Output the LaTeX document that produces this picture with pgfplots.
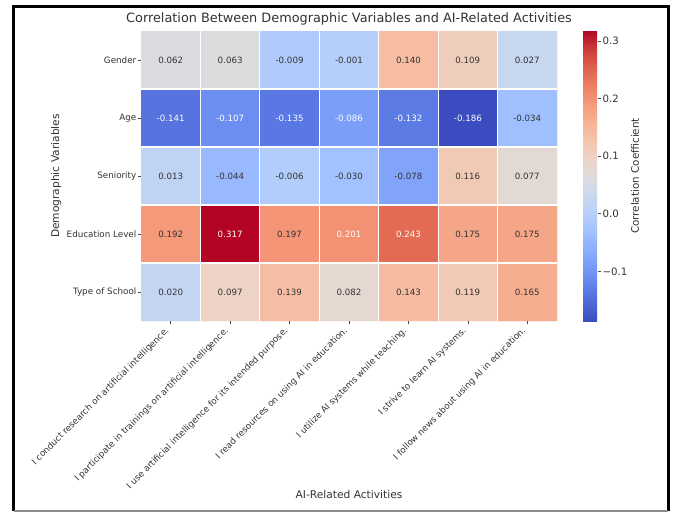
\documentclass[border=0pt]{standalone}
\usepackage{fontspec}
\setmainfont{DejaVu Sans}
\usepackage{pgfplots}
\pgfplotsset{compat=1.18}
\usepackage{pgfplotstable}

\pgfplotstableread{
x y v
0 0 0.020
1 0 0.097
2 0 0.139
3 0 0.082
4 0 0.143
5 0 0.119
6 0 0.165
0 1 0.192
1 1 0.317
2 1 0.197
3 1 0.201
4 1 0.243
5 1 0.175
6 1 0.175
0 2 0.013
1 2 -0.044
2 2 -0.006
3 2 -0.030
4 2 -0.078
5 2 0.116
6 2 0.077
0 3 -0.141
1 3 -0.107
2 3 -0.135
3 3 -0.086
4 3 -0.132
5 3 -0.186
6 3 -0.034
0 4 0.062
1 4 0.063
2 4 -0.009
3 4 -0.001
4 4 0.140
5 4 0.109
6 4 0.027
}\heat

\pgfplotstableread{
x y t
0 0 0.020
1 0 0.097
2 0 0.139
3 0 0.082
4 0 0.143
5 0 0.119
6 0 0.165
0 1 0.192
2 1 0.197
5 1 0.175
6 1 0.175
0 2 0.013
1 2 -0.044
2 2 -0.006
3 2 -0.030
4 2 -0.078
5 2 0.116
6 2 0.077
6 3 -0.034
0 4 0.062
1 4 0.063
2 4 -0.009
3 4 -0.001
4 4 0.140
5 4 0.109
6 4 0.027
}\darklabels

\pgfplotstableread{
x y t
1 1 0.317
3 1 0.201
4 1 0.243
0 3 -0.141
1 3 -0.107
2 3 -0.135
3 3 -0.086
4 3 -0.132
5 3 -0.186
}\whitelabels

\definecolor{txt}{gray}{0.2}

\begin{document}
\begin{tikzpicture}
\useasboundingbox (0,0) rectangle (673bp,-513bp);
\fill[white] (0,0) rectangle (673bp,-513bp);
\draw[black, line width=3bp] (13.5bp,-511bp) -- (13.5bp,-6.5bp) -- (668.3bp,-6.5bp) -- (668.3bp,-511bp);
\draw[black!45, line width=2bp] (13.5bp,-510.8bp) -- (668.3bp,-510.8bp);
\begin{axis}[
  at={(141bp,-321bp)}, anchor=south west,
  scale only axis, width=416bp, height=290bp,
  xmin=-0.5, xmax=6.5, ymin=-0.5, ymax=4.5,
  enlargelimits=false,
  colormap={coolwarm}{
    rgb=(0.2298,0.2987,0.7537)
    rgb=(0.3039,0.4065,0.8450)
    rgb=(0.3830,0.5094,0.9174)
    rgb=(0.4667,0.6046,0.9682)
    rgb=(0.5530,0.6889,0.9954)
    rgb=(0.6392,0.7596,0.9982)
    rgb=(0.7222,0.8140,0.9766)
    rgb=(0.7987,0.8498,0.9317)
    rgb=(0.8654,0.8654,0.8654)
    rgb=(0.9241,0.8274,0.7745)
    rgb=(0.9589,0.7698,0.6780)
    rgb=(0.9700,0.6943,0.5794)
    rgb=(0.9580,0.6028,0.4818)
    rgb=(0.9239,0.4973,0.3880)
    rgb=(0.8692,0.3783,0.3003)
    rgb=(0.7956,0.2413,0.2205)
    rgb=(0.7057,0.0156,0.1502)
  },
  point meta min=-0.186, point meta max=0.317,
  xtick={0,...,6}, ytick={0,...,4},
  xticklabels={
    I conduct research on artificial intelligence.,
    I participate in trainings on artificial intelligence.,
    I use artificial intelligence for its intended purpose.,
    I read resources on using AI in education.,
    I utilize AI systems while teaching.,
    I strive to learn AI systems.,
    I follow news about using AI in education.},
  yticklabels={Type of School, Education Level, Seniority, Age, Gender},
  x tick label style={xshift=-6bp, rotate=45, anchor=north east, font=\fontsize{8.8}{10}\selectfont, inner sep=1.5bp, text=txt},
  y tick label style={font=\fontsize{8.8}{10}\selectfont, inner sep=1.5bp, text=txt},
  tick align=outside, major tick length=3bp, xtick pos=bottom, ytick pos=left,
  tick style={black!70, line width=0.6bp},
  axis line style={draw=none},
  minor xtick={0.5,1.5,2.5,3.5,4.5,5.5}, minor ytick={0.5,1.5,2.5,3.5},
  xminorgrids, yminorgrids, minor grid style={white, line width=1.2bp},
  minor tick length=0pt,
  axis on top,
  title={Correlation Between Demographic Variables and AI-Related Activities},
  title style={font=\fontsize{12.9}{14}\selectfont, at={(0.5,1)}, anchor=south, yshift=-4bp, text=txt},
  xlabel={AI-Related Activities},
  xlabel style={at={(axis description cs:0.5,-0.6)}, anchor=center, font=\fontsize{10.7}{12}\selectfont, text=txt},
  ylabel={Demographic Variables},
  ylabel style={at={(axis description cs:-0.204,0.5)}, anchor=center, font=\fontsize{10.7}{12}\selectfont, text=txt},
  colorbar,
  colorbar style={
    at={(1.0625,1)}, anchor=north west, width=15bp,
    ytick={-0.1,0,0.1,0.2,0.3},
    yticklabels={−0.1,0.0,0.1,0.2,0.3},
    yticklabel style={font=\fontsize{10.2}{12}\selectfont, inner sep=1.5bp, text=txt},
    axis line style={draw=none},
    tick align=outside, major tick length=3bp,
    tick style={black!70, line width=0.6bp},
    ytick pos=right, yticklabel pos=right,
    ylabel={Correlation Coefficient},
    ylabel style={at={(axis description cs:3.47,0.5)}, anchor=center, rotate=0, font=\fontsize{10.4}{12}\selectfont, text=txt},
  },
]
\addplot[matrix plot*, mesh/cols=7, point meta=explicit] table[x=x, y=y, meta=v] {\heat};
\addplot[only marks, mark size=0pt, draw=none, point meta=explicit symbolic,
  nodes near coords, nodes near coords style={anchor=center, font=\fontsize{8.7}{10}\selectfont, text=txt}]
  table[x=x, y=y, meta=t] {\darklabels};
\addplot[only marks, mark size=0pt, draw=none, point meta=explicit symbolic,
  nodes near coords, nodes near coords style={anchor=center, font=\fontsize{8.7}{10}\selectfont, text=white}]
  table[x=x, y=y, meta=t] {\whitelabels};
\end{axis}
\end{tikzpicture}
\end{document}
